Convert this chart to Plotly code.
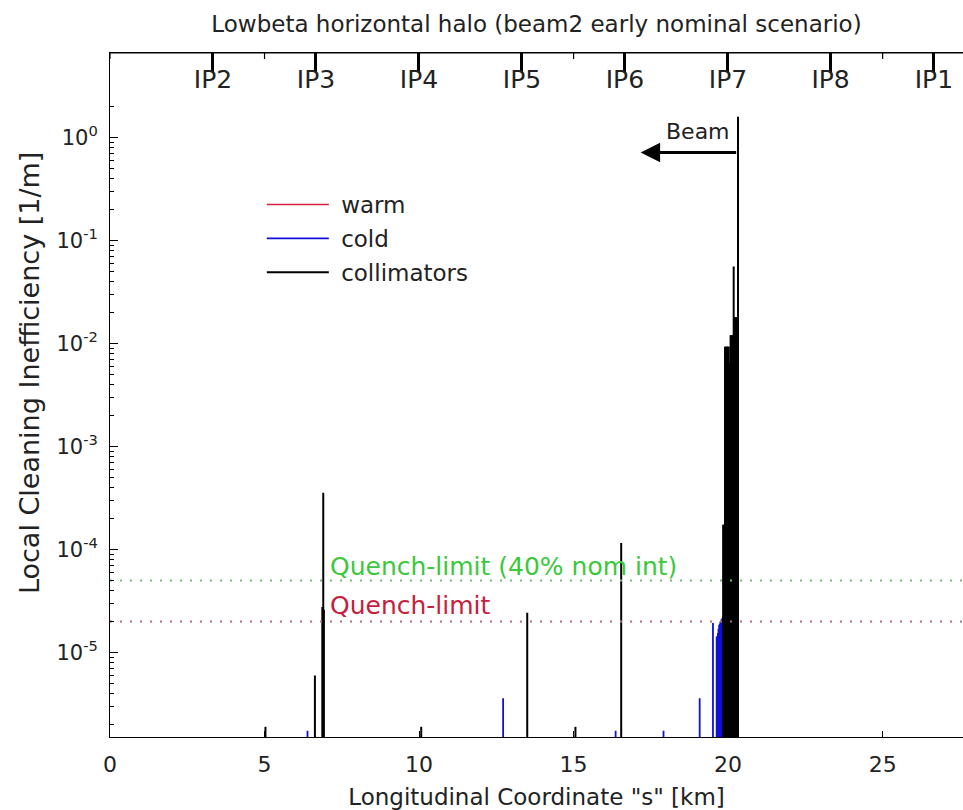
import plotly.graph_objects as go

# ---------------- data ----------------
ip_pos = [3.332, 6.664, 9.997, 13.329, 16.661, 19.994, 23.315, 26.659]
ip_names = ["IP2", "IP3", "IP4", "IP5", "IP6", "IP7", "IP8", "IP1"]

warm_s = []
warm_v = []

cold_s = [6.39, 12.72, 16.36, 17.91, 19.08, 19.51,
          19.63, 19.65, 19.67, 19.69, 19.71, 19.73, 19.75, 19.77, 19.79, 19.81, 19.83]
cold_v = [1.74e-6, 3.6e-6, 1.74e-6, 1.74e-6, 3.6e-6, 1.94e-5,
          1.42e-5, 1.45e-5, 1.55e-5, 1.7e-5, 1.85e-5, 1.9e-5, 2.0e-5, 2.05e-5, 2.1e-5, 2.15e-5, 2.2e-5]

coll_s = [5.03, 6.63, 6.87, 6.90, 6.92, 10.07, 13.50, 15.06, 16.54,
          19.84, 19.86, 19.88, 19.90, 19.92, 19.94, 19.96, 19.98, 20.00, 20.02,
          20.04, 20.06, 20.08, 20.10, 20.12, 20.14, 20.16, 20.18, 20.20, 20.22,
          20.24, 20.26, 20.28, 20.30, 20.32]
coll_v = [1.9e-6, 6.0e-6, 2.77e-5, 3.55e-4, 2.6e-5, 1.9e-6, 2.43e-5, 1.9e-6, 1.16e-4,
          1.74e-4, 1.74e-4, 1.74e-4, 9.3e-3, 9.3e-3, 9.3e-3, 9.3e-3, 9.3e-3, 9.3e-3, 9.3e-3,
          6.5e-3, 6.5e-3, 1.2e-2, 1.2e-2, 1.2e-2, 1.2e-2, 1.2e-2, 5.6e-2, 1.8e-2, 1.8e-2,
          1.8e-2, 1.8e-2, 1.8e-2, 1.8e-2, 1.59]

quench_limit = 2e-5
quench_limit_40 = 5e-5

x_range = [0, 27.6]
y_log_range = [-5.82, 0.82]
y_major = [1e-5, 1e-4, 1e-3, 1e-2, 1e-1, 1e0]
y_major_text = ["10<sup>-5</sup>", "10<sup>-4</sup>", "10<sup>-3</sup>",
                "10<sup>-2</sup>", "10<sup>-1</sup>", "10<sup>0</sup>"]
x_ticks = [0, 5, 10, 15, 20, 25]

FONT = "DejaVu Sans"
TXT = "#222"
FLOOR = 1e-8


def stems(s, v):
    xs, ys = [], []
    for a, b in zip(s, v):
        xs += [a, a, None]
        ys += [FLOOR, b, None]
    return xs, ys


fig = go.Figure()

wx, wy = stems(warm_s, warm_v)
fig.add_trace(go.Scatter(x=wx if wx else [None], y=wy if wy else [None], mode="lines",
                         name="\u00a0warm", line=dict(color="#d0203c", width=1.5),
                         legendgroup="a", hoverinfo="skip"))
cx, cy = stems(cold_s, cold_v)
fig.add_trace(go.Scatter(x=cx, y=cy, mode="lines", name="\u00a0cold",
                         line=dict(color="#1010d8", width=1.8), legendgroup="b"))
kx, ky = stems(coll_s, coll_v)
fig.add_trace(go.Scatter(x=kx, y=ky, mode="lines", name="\u00a0collimators",
                         line=dict(color="black", width=2), legendgroup="c"))

# quench limit lines
fig.add_trace(go.Scatter(x=x_range, y=[quench_limit_40] * 2, mode="lines", showlegend=False,
                         line=dict(color="#7ab87a", width=2, dash="2px,8px"), hoverinfo="skip"))
fig.add_trace(go.Scatter(x=x_range, y=[quench_limit] * 2, mode="lines", showlegend=False,
                         line=dict(color="#b07078", width=2, dash="2px,8px"), hoverinfo="skip"))

# dummy trace for the IP (top) axis
fig.add_trace(go.Scatter(x=[None], y=[None], xaxis="x3", showlegend=False, hoverinfo="skip"))

minor_vals = [k * 10.0 ** e for e in range(-6, 1) for k in range(2, 10)]

fig.update_layout(
    width=963, height=810,
    margin=dict(l=110, r=0, t=53, b=73),
    paper_bgcolor="white", plot_bgcolor="white",
    font=dict(family=FONT, size=22, color=TXT),
    title=dict(text="Lowbeta horizontal halo (beam2 early nominal scenario)",
               x=0.5, xref="paper", y=0.9704, yref="container", yanchor="middle",
               font=dict(size=23, family=FONT, color=TXT)),
    xaxis=dict(range=x_range, tickvals=x_ticks, ticks="inside", ticklen=6,
               tickcolor="black", showline=True, linecolor="black", linewidth=1,
               showgrid=False, zeroline=False, mirror=False,
               tickfont=dict(size=22, family=FONT, color=TXT), ticklabelstandoff=8,
               title=dict(text='Longitudinal Coordinate "s" [km]', standoff=12,
                          font=dict(size=23, family=FONT, color=TXT))),
    xaxis3=dict(range=x_range, overlaying="x", side="top", tickvals=ip_pos,
                ticktext=ip_names, ticks="inside", ticklen=19, tickwidth=3,
                tickcolor="black", ticklabelposition="inside",
                showline=True, linecolor="black", linewidth=1,
                showgrid=False, zeroline=False,
                tickfont=dict(size=25, family=FONT, color=TXT)),
    yaxis=dict(type="log", range=y_log_range, tickvals=y_major, ticktext=y_major_text,
               ticks="inside", ticklen=8, tickcolor="black", showline=True,
               linecolor="black", linewidth=1, showgrid=False, zeroline=False,
               mirror=False, ticklabelstandoff=7,
               tickfont=dict(size=21, family=FONT, color=TXT),
               minor=dict(tickvals=minor_vals, ticks="inside", ticklen=4,
                          tickcolor="black", showgrid=False)),
    legend=dict(x=0.178, y=0.81, xanchor="left", yanchor="top", bgcolor="rgba(0,0,0,0)",
                borderwidth=0, font=dict(size=23, family=FONT, color=TXT),
                tracegroupgap=1, itemwidth=62),
    showlegend=True,
)

# top frame line and its short ticks
fig.add_shape(type="line", xref="paper", yref="paper", x0=0, x1=1, y0=1, y1=1,
              line=dict(color="black", width=1.2), layer="above")
for t in x_ticks:
    fig.add_shape(type="line", xref="x", yref="paper", x0=t, x1=t, y0=1, y1=1 - 6 / 684,
                  line=dict(color="black", width=1.2), layer="above")

# y axis title placed like the reference
fig.add_annotation(x=-0.095, y=0.532, xref="paper", yref="paper",
                   text="Local Cleaning Inefficiency [1/m]", textangle=-90,
                   showarrow=False, xanchor="center", yanchor="middle",
                   font=dict(size=27, family=FONT, color=TXT))

# text labels
fig.add_annotation(x=7.04, y=-4.16, xref="x", yref="y", text="Quench-limit (40% nom int)",
                   showarrow=False, xanchor="left", yanchor="middle",
                   font=dict(size=25, family=FONT, color="#3cc83c"))
fig.add_annotation(x=7.04, y=-4.54, xref="x", yref="y", text="Quench-limit",
                   showarrow=False, xanchor="left", yanchor="middle",
                   font=dict(size=25, family=FONT, color="#c8203c"))
# Beam arrow
fig.add_annotation(x=17.17, y=-0.147, ax=20.31, ay=-0.147, xref="x", yref="y",
                   axref="x", ayref="y", text="", showarrow=True, arrowhead=2,
                   arrowsize=1.3, arrowwidth=3, arrowcolor="black")
fig.add_annotation(x=20.11, y=0.06, xref="x", yref="y", text="Beam", showarrow=False,
                   xanchor="right", yanchor="middle",
                   font=dict(size=22, family=FONT, color=TXT))

fig.write_html("out.html")
